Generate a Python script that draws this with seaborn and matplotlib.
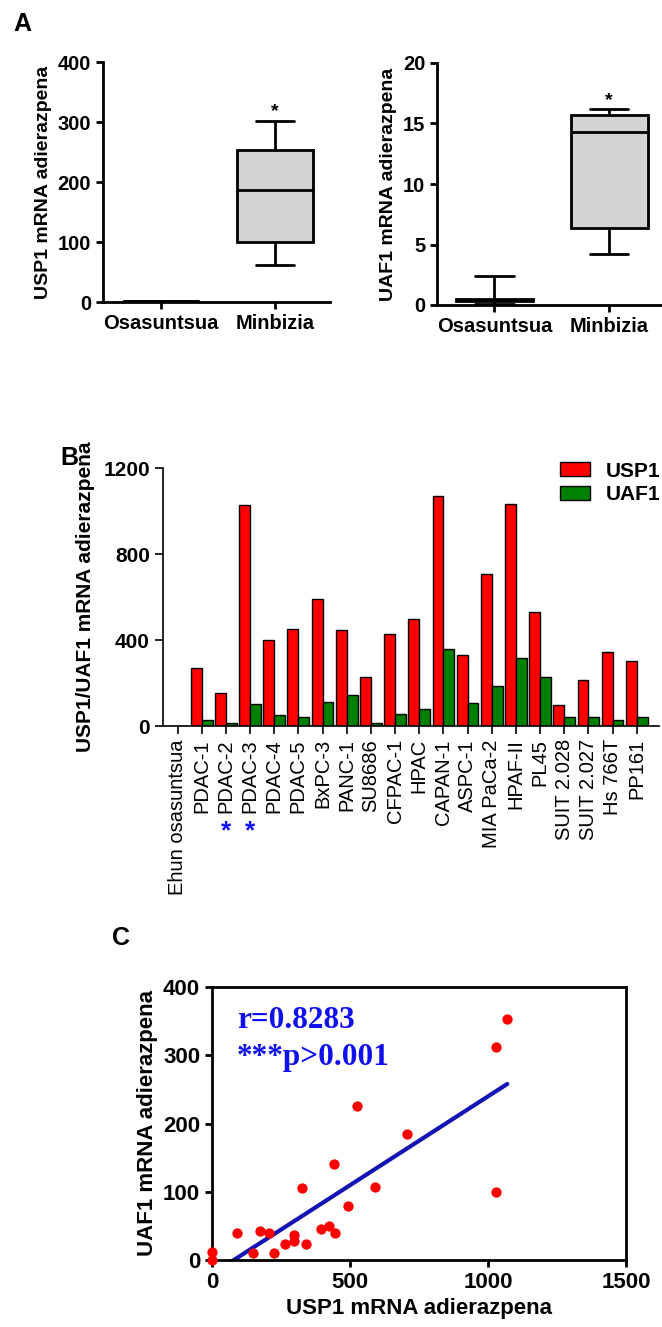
import matplotlib
matplotlib.use('Agg')
import matplotlib.pyplot as plt
import pandas as pd
import seaborn as sns


# ========== DATA ==========
# Panel A: five-number summaries (min, Q1, median, Q3, max) of each box
GROUPS = ['Osasuntsua', 'Minbizia']
USP1_HEALTHY = [0.5, 1.0, 1.5, 2.0, 2.5]
USP1_TUMOUR = [61, 100, 186, 253, 301]
UAF1_HEALTHY = [0.1, 0.3, 0.4, 0.5, 2.4]
UAF1_TUMOUR = [4.2, 6.4, 14.3, 15.7, 16.2]

# Panel B: expression per cell line
CELL_LINES = ['Ehun osasuntsua', 'PDAC-1', 'PDAC-2', 'PDAC-3', 'PDAC-4', 'PDAC-5',
              'BxPC-3', 'PANC-1', 'SU8686', 'CFPAC-1', 'HPAC', 'CAPAN-1', 'ASPC-1',
              'MIA PaCa-2', 'HPAF-II', 'PL45', 'SUIT 2.028', 'SUIT 2.027', 'Hs 766T', 'PP161']
USP1_LEVELS = [1, 270, 152, 1027, 400, 450, 592, 447, 230, 427,
               496, 1072, 328, 709, 1032, 529, 96, 212, 345, 302]
UAF1_LEVELS = [1, 27, 14, 101, 50, 44, 110, 146, 16, 54,
               81, 357, 109, 186, 314, 228, 44, 44, 27, 42]
STARRED_LINES = ['PDAC-2', 'PDAC-3']

# Panel C: scatter points
SCATTER_USP1 = [0, 0, 92, 148, 174, 205, 226, 266, 297, 296, 326, 342,
                394, 424, 446, 443, 493, 526, 590, 707, 1029, 1030, 1070]
SCATTER_UAF1 = [11, 0, 39, 10, 42, 39, 10, 23, 37, 28, 106, 24,
                46, 50, 40, 141, 79, 226, 107, 184, 99, 312, 353]
R_TEXT = 'r=0.8283'
P_TEXT = '***p>0.001'
# ================================================

W, H = 662, 1327
sns.set_style('ticks')
plt.rcParams['font.family'] = ['Liberation Sans', 'DejaVu Sans']
plt.rcParams['font.weight'] = 'bold'
plt.rcParams['axes.labelweight'] = 'bold'
plt.rcParams['axes.edgecolor'] = 'black'
plt.rcParams['axes.labelcolor'] = 'black'
plt.rcParams['text.color'] = 'black'
plt.rcParams['xtick.color'] = 'black'
plt.rcParams['ytick.color'] = 'black'
plt.rcParams['xtick.labelcolor'] = 'black'
plt.rcParams['ytick.labelcolor'] = 'black'

fig = plt.figure(figsize=(W / 100, H / 100), dpi=100)


def px_axes(left, top, right, bottom):
    """Add axes from pixel box (origin top-left)."""
    return fig.add_axes([left / W, (H - bottom) / H, (right - left) / W, (bottom - top) / H])


def box_panel(ax, healthy, tumour, ylabel, ymax, step, star_y):
    df = pd.DataFrame({'group': [GROUPS[0]] * len(healthy) + [GROUPS[1]] * len(tumour),
                       'value': healthy + tumour})
    sns.boxplot(data=df, x='group', y='value', order=GROUPS, whis=(0, 100), width=0.67,
                color='#d3d3d3', saturation=1, linecolor='black', linewidth=2, ax=ax)
    ax.set_ylim(0, ymax)
    ax.set_yticks(range(0, ymax + 1, step))
    ax.set_xlabel('')
    ax.set_ylabel(ylabel, fontsize=14, fontweight='bold', labelpad=4)
    ax.text(1, star_y, '*', ha='center', va='bottom', fontsize=14, fontweight='bold')
    sns.despine(ax=ax)
    for s in ['left', 'bottom']:
        ax.spines[s].set_linewidth(2)
    ax.tick_params(width=2, length=5, labelsize=14.5)
    for lab in ax.get_xticklabels() + ax.get_yticklabels():
        lab.set_fontweight('bold')


# ---- Panel A ----
ax_a1 = px_axes(103, 62, 330, 302)
box_panel(ax_a1, USP1_HEALTHY, USP1_TUMOUR, 'USP1 mRNA adierazpena', 400, 100, 304)
ax_a1.set_xlim(-0.51, 1.48)

ax_a2 = px_axes(437, 63, 662, 305)
box_panel(ax_a2, UAF1_HEALTHY, UAF1_TUMOUR, 'UAF1 mRNA adierazpena', 20, 5, 16.2)
ax_a2.set_xlim(-0.5, 1.46)

# ---- Panel B ----
ax_b = px_axes(163, 468, 659, 726)
n = len(CELL_LINES)
df_b = pd.DataFrame({'line': CELL_LINES * 2,
                     'gene': ['USP1'] * n + ['UAF1'] * n,
                     'value': USP1_LEVELS + UAF1_LEVELS})
sns.barplot(data=df_b, x='line', y='value', hue='gene', order=CELL_LINES,
            hue_order=['USP1', 'UAF1'], palette={'USP1': '#ff0000', 'UAF1': '#008000'},
            edgecolor='black', linewidth=1, width=0.9, saturation=1, errorbar=None, ax=ax_b)
ax_b.set_xlim(-0.6, n - 1 + 0.92)
ax_b.set_ylim(0, 1200)
ax_b.set_yticks([0, 400, 800, 1200])
ax_b.set_xlabel('')
ax_b.set_ylabel('USP1/UAF1 mRNA adierazpena', fontsize=15, fontweight='bold', labelpad=6)
sns.despine(ax=ax_b)
for s in ['left', 'bottom']:
    ax_b.spines[s].set_linewidth(1.2)
ax_b.tick_params(width=1.2, length=6)
ax_b.tick_params(axis='y', labelsize=15)
ax_b.tick_params(axis='x', labelsize=14.5, rotation=90)
for lab in ax_b.get_yticklabels():
    lab.set_fontweight('bold')
for lab in ax_b.get_xticklabels():
    lab.set_fontweight('normal')
for name in STARRED_LINES:
    ax_b.text(CELL_LINES.index(name), -0.41, '*', color='#1010ff', ha='center', va='center',
              fontsize=19, fontweight='bold', transform=ax_b.get_xaxis_transform())
leg = ax_b.legend(loc='upper right', bbox_to_anchor=(1.003, 1.025), frameon=False,
                  borderaxespad=0, borderpad=0,
                  prop={'weight': 'bold', 'size': 15}, handlelength=1.45, handleheight=0.65,
                  labelspacing=0.22, handletextpad=0.75)

# ---- Panel C ----
ax_c = px_axes(212, 987, 626, 1260)
df_c = pd.DataFrame({'usp1': SCATTER_USP1, 'uaf1': SCATTER_UAF1})
sns.regplot(data=df_c, x='usp1', y='uaf1', ci=None, ax=ax_c,
            scatter_kws={'s': 55, 'color': '#ff0000', 'linewidths': 0, 'clip_on': False,
                         'zorder': 3, 'alpha': 1},
            line_kws={'color': '#1414b4', 'lw': 3})
ax_c.set_xlim(0, 1500)
ax_c.set_ylim(0, 400)
ax_c.set_xticks([0, 500, 1000, 1500])
ax_c.set_yticks([0, 100, 200, 300, 400])
ax_c.set_xlabel('USP1 mRNA adierazpena', fontsize=16, fontweight='bold', labelpad=4)
ax_c.set_ylabel('UAF1 mRNA adierazpena', fontsize=16, fontweight='bold', labelpad=4)
for s in ax_c.spines.values():
    s.set_linewidth(2)
ax_c.tick_params(width=2, length=5, labelsize=16)
for lab in ax_c.get_xticklabels() + ax_c.get_yticklabels():
    lab.set_fontweight('bold')
ax_c.text(90, 340, R_TEXT, color='#1010ee', fontsize=22.5, fontweight='bold',
          family=['Liberation Serif', 'DejaVu Serif'], va='baseline')
ax_c.text(90, 286, P_TEXT, color='#1010ee', fontsize=22.5, fontweight='bold',
          family=['Liberation Serif', 'DejaVu Serif'], va='baseline')

# ---- panel letters ----
fig.text(13 / W, 1 - 31 / H, 'A', fontsize=18, fontweight='bold')
fig.text(60 / W, 1 - 465 / H, 'B', fontsize=18, fontweight='bold')
fig.text(112 / W, 1 - 945 / H, 'C', fontsize=18, fontweight='bold')

fig.savefig('out.png', dpi=100)
